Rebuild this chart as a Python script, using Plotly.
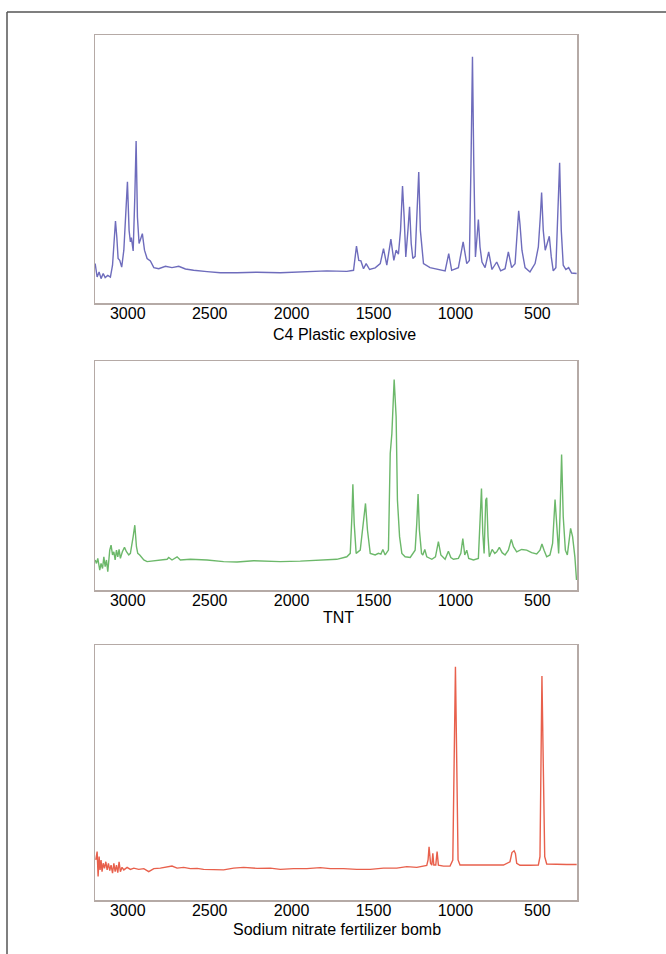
import plotly.graph_objects as go

# ---- C4 plastic explosive (wavenumber, relative intensity) ----
c4_wn = [3199, 3187, 3175, 3163, 3150, 3138, 3122, 3106, 3093, 3085, 3075, 3067, 3059, 3049, 3037,
         3024, 3012, 3002, 2992, 2984, 2978, 2967, 2957, 2949, 2941, 2931, 2921, 2911, 2898, 2882,
         2862, 2841, 2811, 2770, 2730, 2689, 2648, 2598, 2516, 2435, 2333, 2211, 2069, 1907, 1785,
         1663, 1622, 1604, 1590, 1577, 1561, 1545, 1524, 1490, 1459, 1439, 1419, 1394, 1376, 1362,
         1348, 1335, 1323, 1313, 1303, 1290, 1280, 1270, 1260, 1246, 1234, 1224, 1214, 1195, 1155,
         1114, 1063, 1041, 1023, 982, 953, 931, 915, 905, 896, 888, 878, 868, 860, 850,
         838, 819, 797, 777, 748, 724, 697, 677, 657, 636, 622, 614, 606, 594, 575,
         545, 514, 494, 482, 474, 464, 452, 440, 427, 415, 403, 387, 374, 364, 354,
         342, 326, 309, 291, 260]
c4_int = [14.7, 9.7, 11.6, 9.1, 11.0, 9.5, 10.3, 9.7, 14.1, 20.9, 30.6, 24.7, 16.6, 15.9, 13.4,
          19.7, 37.1, 45.2, 27.1, 22.8, 24.4, 19.4, 39.6, 60.4, 32.1, 22.2, 24.0, 25.9, 19.7, 16.6,
          15.7, 13.2, 12.8, 13.7, 13.2, 13.7, 12.7, 12.2, 11.7, 11.3, 11.3, 11.5, 11.3, 11.6, 12.0,
          11.8, 12.2, 21.2, 15.9, 15.7, 12.8, 14.7, 12.5, 13.1, 14.7, 20.3, 14.1, 23.8, 15.9, 19.7,
          18.2, 27.1, 43.6, 32.1, 17.2, 27.1, 35.9, 22.2, 16.6, 17.4, 32.1, 48.9, 27.1, 14.7, 13.2,
          12.7, 12.0, 18.4, 12.2, 13.2, 22.8, 14.7, 15.9, 52.1, 91.9, 52.1, 17.2, 24.7, 31.1, 20.9,
          15.3, 13.2, 19.1, 12.5, 15.3, 12.0, 12.8, 19.1, 13.2, 14.7, 27.1, 34.4, 29.4, 19.7, 13.2,
          11.6, 14.7, 20.9, 32.1, 41.2, 27.1, 19.7, 22.2, 24.9, 17.2, 12.0, 13.2, 32.1, 52.3, 27.1,
          14.1, 12.5, 13.2, 11.2, 11.0]

# ---- TNT ----
tnt_wn = [3199, 3191, 3183, 3171, 3163, 3154, 3146, 3138, 3130, 3122, 3110, 3102, 3093, 3085, 3077,
          3069, 3061, 3053, 3045, 3033, 3020, 3008, 2994, 2984, 2967, 2957, 2947, 2939, 2927, 2902,
          2882, 2821, 2760, 2750, 2730, 2699, 2679, 2618, 2516, 2415, 2333, 2232, 2069, 1947, 1825,
          1724, 1663, 1642, 1632, 1626, 1618, 1606, 1581, 1561, 1549, 1537, 1520, 1490, 1470, 1455,
          1443, 1429, 1409, 1398, 1388, 1374, 1362, 1354, 1341, 1327, 1307, 1276, 1246, 1236, 1228,
          1220, 1207, 1199, 1187, 1175, 1144, 1122, 1104, 1089, 1063, 1043, 1028, 1012, 982, 967,
          955, 943, 931, 919, 890, 860, 850, 841, 833, 825, 815, 809, 801, 793, 776,
          760, 748, 732, 715, 697, 677, 659, 646, 626, 596, 565, 535, 504, 484, 472,
          459, 443, 423, 407, 392, 382, 370, 362, 352, 342, 329, 317, 307, 297, 285,
          271, 261]
tnt_int = [13.1, 11.6, 13.8, 8.7, 11.6, 9.4, 14.5, 10.2, 13.1, 8.0, 17.4, 19.6, 15.3, 16.7, 13.1,
           17.4, 14.5, 17.7, 13.8, 16.7, 18.6, 16.7, 15.3, 16.0, 23.3, 28.3, 18.9, 16.0, 15.3, 13.1,
           12.4, 12.8, 13.4, 14.2, 13.1, 14.5, 13.1, 13.4, 13.1, 12.4, 12.2, 12.8, 12.4, 12.6, 13.1,
           13.4, 14.5, 16.0, 32.0, 46.2, 29.1, 16.0, 17.4, 29.1, 37.8, 26.2, 16.0, 15.3, 16.0, 15.7,
           17.7, 15.3, 17.4, 59.6, 68.3, 91.9, 75.6, 39.2, 23.3, 16.0, 14.5, 14.2, 17.4, 29.1, 41.9,
           26.2, 16.0, 15.3, 17.7, 14.5, 13.4, 14.5, 21.1, 15.3, 13.4, 16.9, 14.2, 13.4, 13.8, 16.0,
           22.5, 15.3, 17.4, 13.8, 13.1, 13.8, 29.1, 44.3, 24.7, 16.0, 39.2, 40.3, 23.3, 14.5, 17.7,
           16.0, 16.7, 18.6, 16.3, 15.3, 17.4, 22.1, 18.9, 16.7, 17.7, 17.4, 16.3, 15.7, 17.4, 20.1,
           17.4, 14.5, 15.3, 20.3, 39.5, 26.2, 16.0, 32.0, 59.2, 32.0, 17.4, 15.3, 21.8, 26.9, 23.3,
           14.5, 4.4]

# ---- Sodium nitrate fertilizer bomb ----
na_wn = [3195, 3187, 3181, 3175, 3169, 3163, 3157, 3150, 3142, 3134, 3126, 3118, 3110, 3102, 3093,
         3085, 3077, 3069, 3061, 3053, 3045, 3035, 3024, 3004, 2984, 2963, 2933, 2902, 2872, 2841,
         2801, 2760, 2730, 2699, 2659, 2618, 2577, 2537, 2476, 2415, 2354, 2293, 2211, 2130, 2069,
         1988, 1907, 1825, 1764, 1683, 1602, 1520, 1439, 1358, 1297, 1236, 1175, 1167, 1161, 1152,
         1144, 1138, 1132, 1120, 1112, 1104, 1073, 1033, 1016, 1008, 1000, 992, 984, 972, 911,
         809, 707, 667, 655, 642, 634, 626, 606, 545, 494, 484, 478, 472, 464, 455,
         443, 382, 321, 260]
na_int = [15.7, 19.0, 9.2, 17.0, 11.8, 15.7, 11.1, 14.4, 12.4, 15.0, 11.8, 14.4, 11.5, 13.7, 10.5,
          14.4, 11.1, 13.7, 10.7, 15.0, 11.1, 12.8, 11.8, 12.8, 12.0, 12.5, 12.0, 12.3, 11.1, 12.3,
          12.5, 12.9, 13.3, 12.5, 12.8, 12.3, 12.4, 12.0, 12.0, 11.8, 12.5, 12.8, 12.4, 12.5, 12.0,
          12.3, 12.3, 12.7, 12.3, 12.3, 12.0, 12.0, 12.5, 12.5, 13.1, 12.8, 13.6, 15.7, 20.9, 14.4,
          13.7, 18.3, 13.7, 13.7, 19.0, 13.7, 13.3, 13.3, 15.7, 53.6, 91.5, 53.6, 15.7, 13.7, 13.7,
          13.5, 13.7, 15.0, 18.6, 19.3, 18.3, 14.4, 13.6, 13.6, 13.7, 17.0, 53.6, 87.8, 53.6, 17.0,
          14.1, 13.9, 13.9, 13.9]

titles = ["C4 Plastic explosive", "TNT", "Sodium nitrate fertilizer bomb"]
tick_vals = [3000, 2500, 2000, 1500, 1000, 500]
tick_text = ["3000", "2500", "2000", "1500", "1000", "500"]
colors = ["#6e6cbc", "#6cb86a", "#e8604c"]

W, H = 666, 954
def px_x(v): return v / W
def px_y(v): return 1 - v / H

# (plot top, plot bottom, title centre y, title centre x) in pixels
panels = [(35, 303, 335, 344), (361, 590, 617, 338), (645, 900, 929, 337)]
x_dom = [px_x(95), px_x(577)]

fig = go.Figure()
series = [(c4_wn, c4_int), (tnt_wn, tnt_int), (na_wn, na_int)]
for i, (xs, ys) in enumerate(series):
    sfx = "" if i == 0 else str(i + 1)
    fig.add_trace(go.Scatter(x=xs, y=ys, mode="lines", xaxis="x" + sfx, yaxis="y" + sfx,
                             line=dict(color=colors[i], width=1.4), showlegend=False,
                             hoverinfo="skip"))

axis_line = "#b5aaa6"
for i, (top, bot, ty, tx) in enumerate(panels):
    sfx = "" if i == 0 else str(i + 1)
    fig.layout["xaxis" + sfx] = dict(
        domain=x_dom, range=[3200, 258], anchor="y" + sfx,
        tickvals=tick_vals, ticktext=tick_text, ticks="", showgrid=False, zeroline=False,
        showline=True, mirror=True, linecolor=axis_line, linewidth=1.5,
        ticklabelstandoff=-5,
        tickfont=dict(family="Liberation Sans, Arial", size=16, color="#000"))
    fig.layout["yaxis" + sfx] = dict(
        domain=[px_y(bot), px_y(top)], range=[0, 100], anchor="x" + sfx,
        showticklabels=False, ticks="", showgrid=False, zeroline=False,
        showline=True, mirror=True, linecolor=axis_line, linewidth=1.5)
    fig.add_annotation(text=titles[i], x=px_x(tx), y=px_y(ty), xref="paper", yref="paper",
                       showarrow=False, xanchor="center", yanchor="middle",
                       font=dict(family="Liberation Sans, Arial", size=16, color="#000"))

# outer frame
fig.add_shape(type="line", xref="paper", yref="paper", x0=px_x(7), x1=1.0,
              y0=px_y(12), y1=px_y(12), line=dict(color="#555", width=1.5))
fig.add_shape(type="line", xref="paper", yref="paper", x0=px_x(7), x1=px_x(7),
              y0=px_y(12), y1=0.0, line=dict(color="#555", width=1.5))

fig.update_layout(width=W, height=H, margin=dict(l=0, r=0, t=0, b=0),
                  paper_bgcolor="white", plot_bgcolor="white")
fig.write_html("out.html", config={"displayModeBar": False, "staticPlot": True},
               post_script="document.body.style.margin='0';")
